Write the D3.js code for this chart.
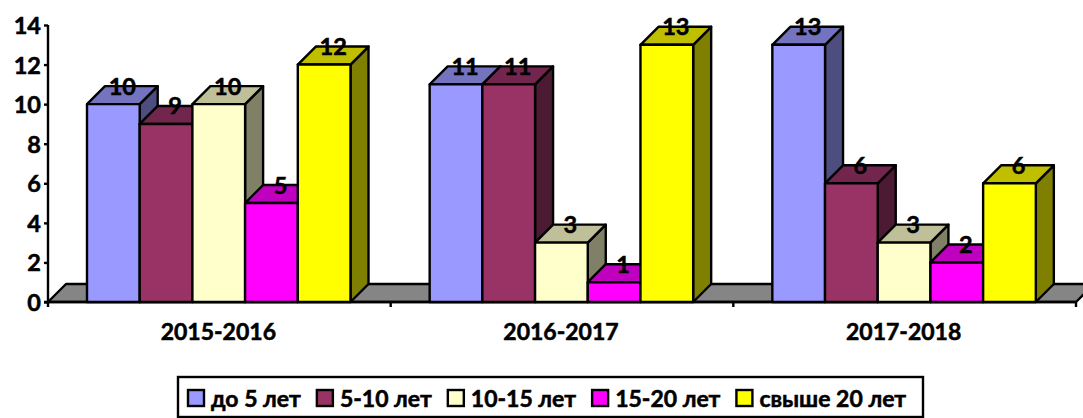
<!DOCTYPE html>
<html><head><meta charset="utf-8">
<script src="https://cdn.jsdelivr.net/npm/d3@7/dist/d3.min.js"></script>
<style>html,body{margin:0;padding:0;background:#fff;overflow:hidden}svg{display:block}text{font-family:Lato,"Open Sans",sans-serif;font-weight:700;fill:#000;stroke:#000;stroke-width:.55px}</style>
</head><body><svg id="c" width="1083" height="418"></svg>
<script>
const categories=["2015-2016","2016-2017","2017-2018"];
const seriesNames=["до 5 лет","5-10 лет","10-15 лет","15-20 лет","свыше 20 лет"];
const seriesColors=["#9999ff","#993366","#ffffcc","#ff00ff","#ffff00"];
const s1=[10,11,13], s2=[9,11,6], s3=[10,3,3], s4=[5,1,2], s5=[12,13,6];
const seriesValues=[s1,s2,s3,s4,s5];
const yTicks=[0,2,4,6,8,10,12,14];

const svg=d3.select("#c");
const plotL=48,plotR=1076,plotT=25,plotB=302,depth=18,fs=23.5,fsSmall=23,lw=2.4;
const x=d3.scaleBand().domain(categories).range([plotL,plotR]);
const inner=d3.scaleBand().domain(d3.range(5)).range([39,39+263.5]);
const y=d3.scaleLinear().domain([0,14]).range([plotB,plotT]);
const shade=(c,k)=>{const r=d3.rgb(c);return d3.rgb(r.r*k,r.g*k,r.b*k).formatHex();};
const P=(g,pts,fill)=>g.append("polygon").attr("points",pts.map(p=>p.join(",")).join(" ")).attr("fill",fill)
  .attr("stroke","#000").attr("stroke-width",lw).attr("stroke-linejoin","round");

// floor
P(svg.append("g"),[[plotL,plotB],[plotL+depth,plotB-depth],[plotR+depth,plotB-depth],[plotR,plotB]],"#858585");

// axes
const ya=d3.axisLeft(y).tickValues(yTicks).tickSize(4).tickSizeOuter(4).tickPadding(3);
const ag=svg.append("g").attr("transform",`translate(${plotL},0)`).call(ya);
ag.selectAll("path,line").attr("stroke","#000").attr("stroke-width",lw);
ag.select("path").attr("d",`M0,${plotT}V${plotB}`);
ag.selectAll("text").attr("font-size",fs).attr("dy","0.36em").attr("font-family",null);
const xTicks=categories.map(c=>x(c)).concat(plotR);
const xg=svg.append("g");
xg.append("line").attr("x1",plotL-4).attr("x2",plotR).attr("y1",plotB).attr("y2",plotB).attr("stroke","#000").attr("stroke-width",lw);
xg.selectAll("line.t").data(xTicks).join("line").attr("class","t").attr("x1",d=>d).attr("x2",d=>d).attr("y1",plotB).attr("y2",plotB+5).attr("stroke","#000").attr("stroke-width",lw);
xg.selectAll("text").data(categories).join("text").attr("x",d=>x(d)+x.bandwidth()/2-1).attr("y",339.5).attr("text-anchor","middle").attr("font-size",fsSmall).text(d=>d);

// bars
const bw=inner.bandwidth();
const bars=svg.append("g"), labels=svg.append("g");
categories.forEach((c,ci)=>{
  seriesValues.forEach((vals,si)=>{
    const v=vals[ci], x0=x(c)+inner(si), x1=x0+bw, yt=y(v), col=seriesColors[si];
    const g=bars.append("g");
    P(g,[[x1,plotB],[x1+depth,plotB-depth],[x1+depth,yt-depth],[x1,yt]],shade(col,0.5));
    P(g,[[x0,yt],[x0+depth,yt-depth],[x1+depth,yt-depth],[x1,yt]],shade(col,0.75));
    P(g,[[x0,plotB],[x0,yt],[x1,yt],[x1,plotB]],col);
    labels.append("text").attr("x",x0+bw/2+depth/2).attr("y",yt-depth).attr("dy","0.36em").attr("text-anchor","middle").attr("font-size",fs).text(v);
  });
});

// legend
const lg=svg.append("g");
lg.append("rect").attr("x",178).attr("y",377).attr("width",745).attr("height",40).attr("fill","#fff").attr("stroke","#000").attr("stroke-width",lw);
let lx=188;
seriesNames.forEach((n,i)=>{
  lg.append("rect").attr("x",lx).attr("y",390).attr("width",16).attr("height",16).attr("fill",seriesColors[i]).attr("stroke","#000").attr("stroke-width",lw);
  const t=lg.append("text").attr("x",lx+23).attr("y",407).attr("font-size",fsSmall).text(n);
  lx+=23+t.node().getComputedTextLength()+16;
});
</script></body></html>
